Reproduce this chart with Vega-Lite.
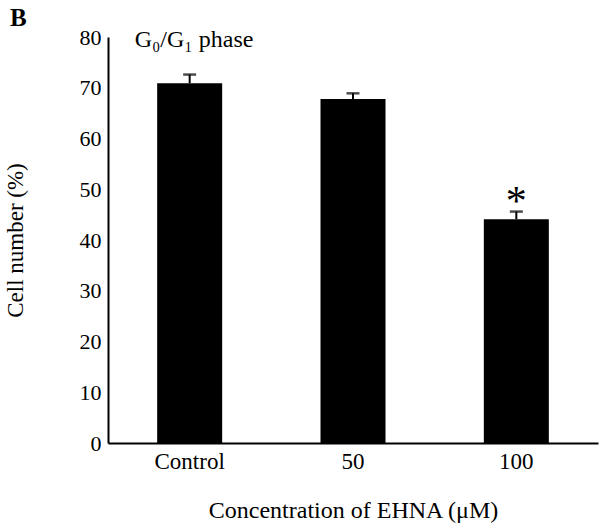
{
  "$schema": "https://vega.github.io/schema/vega-lite/v6.json",
  "autosize": {"type": "none"},
  "padding": {"left": 108, "top": 37, "right": 4, "bottom": 85},
  "width": 490,
  "height": 406,
  "background": "white",
  "title": {
    "text": "B",
    "anchor": "start",
    "frame": "group",
    "dx": -98,
    "dy": 5,
    "offset": 0,
    "font": "Liberation Serif",
    "fontSize": 25,
    "fontWeight": "bold",
    "color": "black"
  },
  "config": {
    "view": {"stroke": null},
    "font": "Liberation Serif",
    "axis": {
      "labelFont": "Liberation Serif",
      "titleFont": "Liberation Serif",
      "labelFontSize": 22,
      "titleFontSize": 24,
      "labelColor": "black",
      "titleColor": "black",
      "titleFontWeight": "normal",
      "domainColor": "black",
      "domainWidth": 2,
      "ticks": false,
      "grid": false
    }
  },
  "data": {
    "values": [
      {"group": "Control", "mean": 70.9, "upper": 72.6, "star": null},
      {"group": "50", "mean": 67.8, "upper": 68.9, "star": null},
      {"group": "100", "mean": 44.1, "upper": 45.6, "star": 49.0}
    ]
  },
  "encoding": {
    "x": {
      "field": "group",
      "type": "nominal",
      "sort": null,
      "scale": {"domain": ["Control", "50", "100"], "paddingInner": 0, "paddingOuter": 0},
      "axis": {"labelAngle": 0, "labelPadding": 7, "labelFontSize": 23, "title": "Concentration of EHNA (μM)", "titlePadding": 25}
    }
  },
  "layer": [
    {
      "mark": {"type": "bar", "color": "black", "size": 65},
      "encoding": {
        "y": {
          "field": "mean",
          "type": "quantitative",
          "scale": {"domain": [0, 80]},
          "axis": {"values": [0, 10, 20, 30, 40, 50, 60, 70, 80], "labelPadding": 7, "title": "Cell number (%)", "titleFontSize": 23, "titlePadding": 52}
        }
      }
    },
    {
      "mark": {"type": "rule", "color": "black", "strokeWidth": 2},
      "encoding": {
        "y": {"field": "mean", "type": "quantitative"},
        "y2": {"field": "upper"}
      }
    },
    {
      "mark": {"type": "tick", "color": "black", "size": 13, "thickness": 2.5},
      "encoding": {
        "y": {"field": "upper", "type": "quantitative"}
      }
    },
    {
      "transform": [{"filter": "datum.star != null"}],
      "mark": {"type": "text", "text": "*", "font": "Liberation Serif", "fontSize": 42, "baseline": "middle", "dy": 8, "color": "black"},
      "encoding": {
        "y": {"field": "star", "type": "quantitative"}
      }
    },
    {
      "data": {"values": [{"label": "G₀/G₁  phase", "group": "Control", "yv": 80}]},
      "mark": {"type": "text", "align": "left", "baseline": "middle", "fontSize": 24, "font": "Liberation Serif", "color": "black", "dx": -55, "dy": 3},
      "encoding": {
        "y": {"field": "yv", "type": "quantitative"},
        "text": {"field": "label"}
      }
    }
  ]
}
